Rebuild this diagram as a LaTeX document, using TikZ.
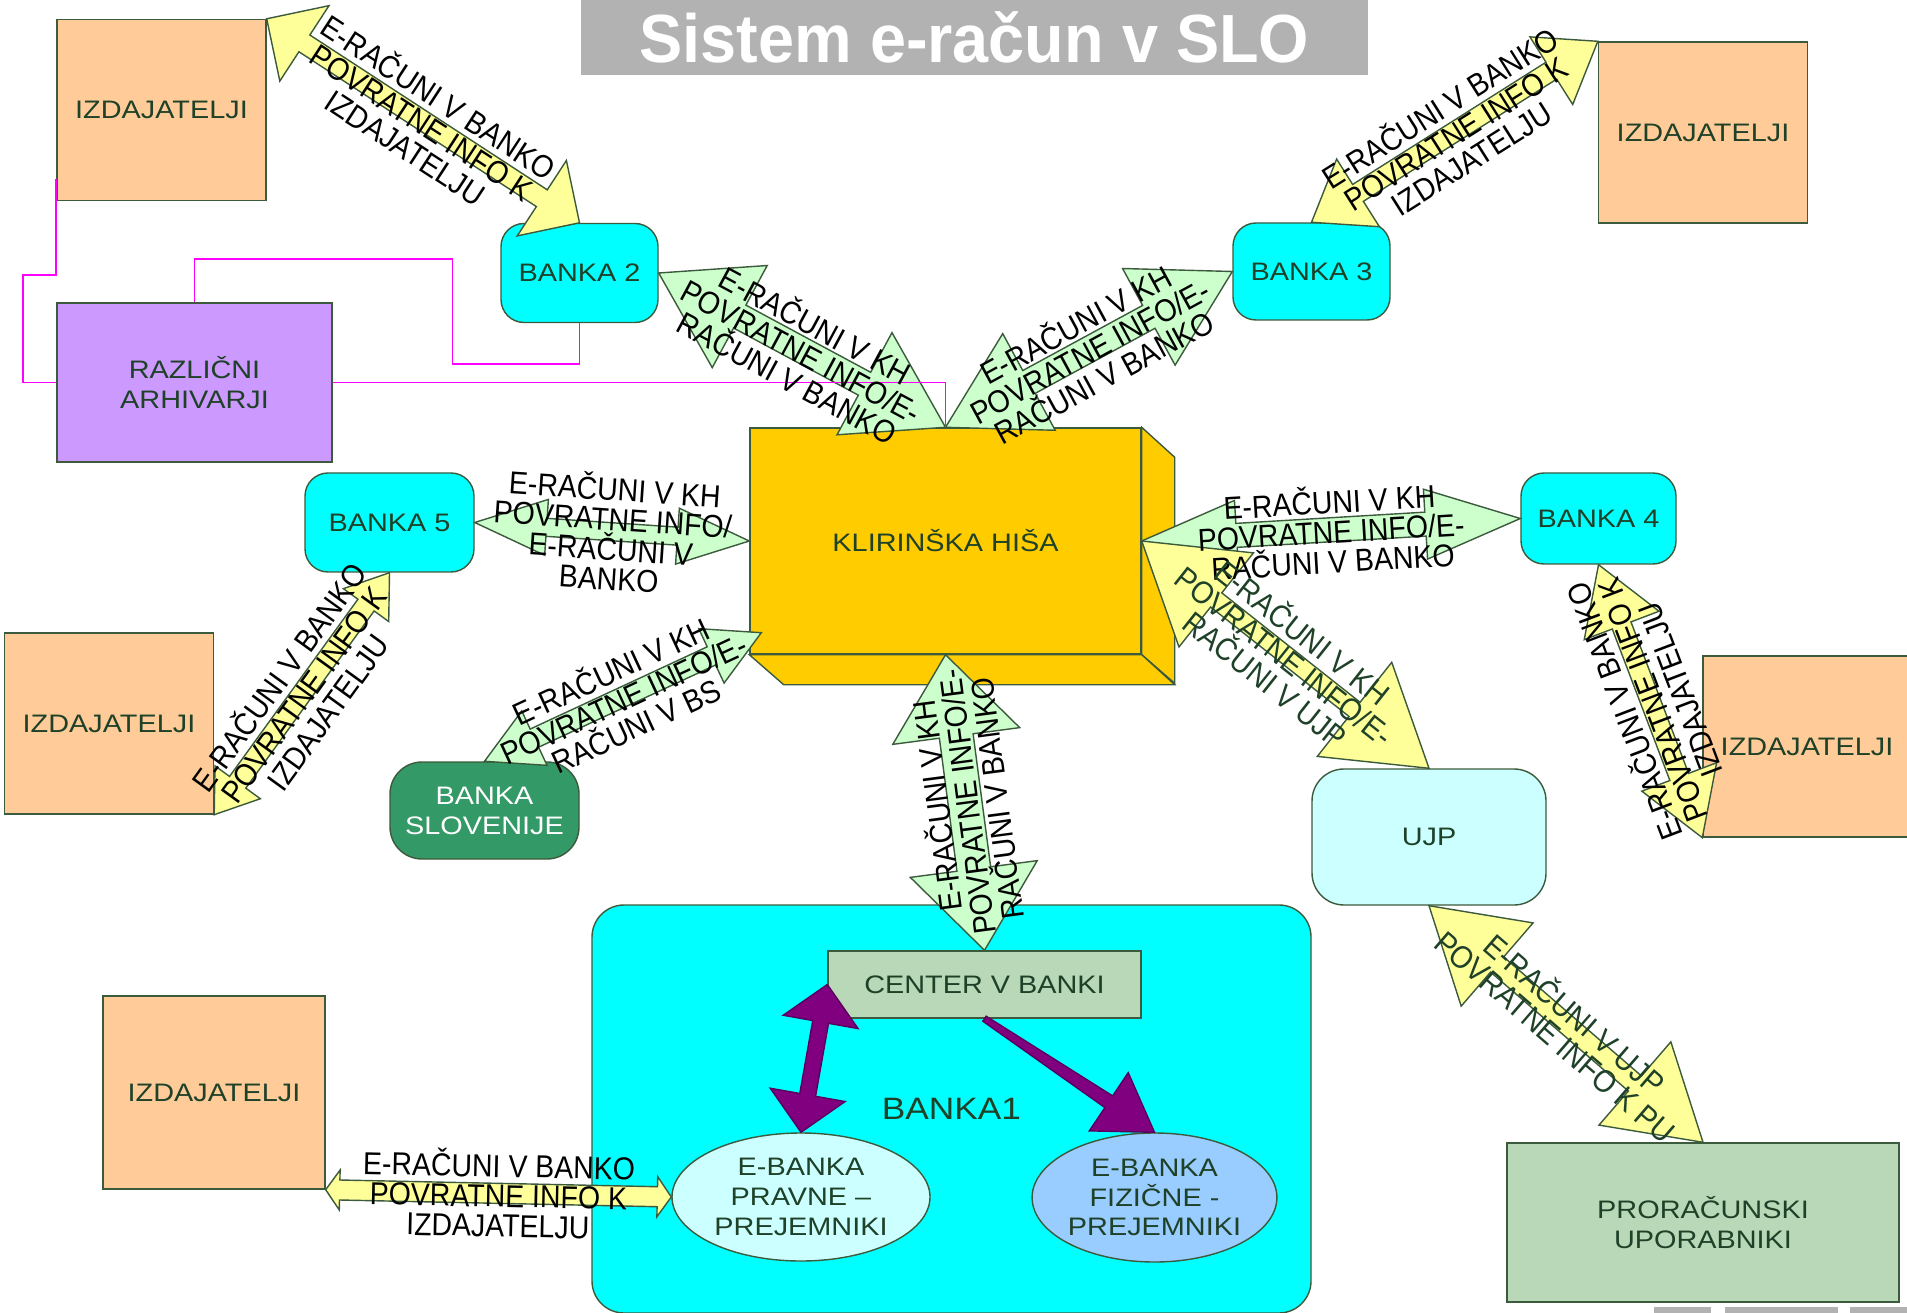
\documentclass[tikz,border=0pt]{standalone}
\usepackage{fontspec}
\setmainfont{Liberation Sans}
\newfontfamily\nodefont{Liberation Sans}[FakeStretch=1.14]
\newfontfamily\lblfont{Liberation Sans}[FakeStretch=0.9]
\newfontfamily\titlefont{Liberation Sans}[FakeStretch=0.95]
\usetikzlibrary{calc,shapes.geometric}

\definecolor{peach}{HTML}{FFCC99}
\definecolor{lavender}{HTML}{CC99FF}
\definecolor{bankcyan}{HTML}{00FFFF}
\definecolor{khgold}{HTML}{FFCC00}
\definecolor{bsgreen}{HTML}{339966}
\definecolor{ujpcyan}{HTML}{CCFFFF}
\definecolor{sage}{HTML}{B8D8B8}
\definecolor{skyblue}{HTML}{99CCFF}
\definecolor{arryellow}{HTML}{FFFF99}
\definecolor{arrgreen}{HTML}{CCFFCC}
\definecolor{ebpurple}{HTML}{800080}
\definecolor{archpink}{HTML}{FF00FF}
\definecolor{edgegreen}{HTML}{3C5A3C}
\definecolor{txtgreen}{HTML}{1E4128}
\definecolor{titlegray}{HTML}{B2B2B2}

\tikzset{
  box/.style={draw=edgegreen, line width=0.4pt, inner sep=0pt, align=center,
    text=txtgreen, font=\nodefont\fontsize{7.2}{8.5}\selectfont},
  izd/.style={box, fill=peach, minimum width=20.9mm, minimum height=18.1mm},
  banka/.style={box, fill=bankcyan, rounded corners=2.3mm},
  arhiv/.style={box, fill=lavender},
  yarrow/.style={fill=arryellow, draw=edgegreen, line width=0.4pt},
  garrow/.style={fill=arrgreen, draw=edgegreen, line width=0.4pt},
  parrow/.style={fill=ebpurple, draw=ebpurple!70!black, line width=0.4pt},
  khside/.style={fill=khgold, draw=edgegreen, line width=0.4pt},
  archline/.style={draw=archpink, line width=0.5pt},
  lbl/.style={midway, sloped, align=center, inner sep=0pt,
    font=\lblfont\fontsize{9}{8.5}\selectfont}
}

% double block arrow: style, from, to, shaft, head width, head length
\newcommand{\blockarrow}[6]{%
  \path[#1] (#2)
    -- ($(#2)!#6!(#3)!#5!90:(#3)$)
    -- ($(#2)!#6!(#3)!#4!90:(#3)$)
    -- ($(#3)!#6!(#2)!#4!-90:(#2)$)
    -- ($(#3)!#6!(#2)!#5!-90:(#2)$)
    -- (#3)
    -- ($(#3)!#6!(#2)!#5!90:(#2)$)
    -- ($(#3)!#6!(#2)!#4!90:(#2)$)
    -- ($(#2)!#6!(#3)!#4!-90:(#3)$)
    -- ($(#2)!#6!(#3)!#5!-90:(#3)$)
    -- cycle;}

\begin{document}
\begin{tikzpicture}[x=0.1mm, y=-0.1mm]
  \useasboundingbox (0,0) rectangle (1907,1313);

  % title
  \node[fill=titlegray, minimum width=78.7mm, minimum height=7.5mm, inner sep=0pt,
    text=white, font=\titlefont\bfseries\fontsize{19.4}{22}\selectfont] (title) at (974.5,37.5) {Sistem e-račun v SLO};

  % bank 1 with its parts
  \node[box, fill=bankcyan, rounded corners=3.2mm, minimum width=71.9mm, minimum height=40.8mm,
    font=\nodefont\fontsize{8.8}{10}\selectfont] (banka1) at (951.5,1109) {BANKA1};
  \node[box, fill=sage, minimum width=31.3mm, minimum height=6.7mm] (center) at (984.5,984.5) {CENTER V BANKI};
  \node[box, shape=ellipse, fill=ujpcyan, minimum width=25.8mm, minimum height=12.8mm] (pravne) at (801,1197) {E-BANKA\\PRAVNE –\\PREJEMNIKI};
  \node[box, shape=ellipse, fill=skyblue, minimum width=23.5mm, minimum height=12.9mm] (fizicne) at (1154.5,1197.5) {E-BANKA\\FIZIČNE -\\PREJEMNIKI};

  % issuers
  \node[izd] (izdTL) at (161.5,110) {IZDAJATELJI};
  \node[izd] (izdTR) at (1703,132.5) {IZDAJATELJI};
  \node[izd] (izdL) at (109,723.5) {IZDAJATELJI};
  \node[izd, minimum width=20.8mm] (izdR) at (1807,746.5) {IZDAJATELJI};
  \node[izd, minimum width=22.2mm, minimum height=19.3mm] (izdBL) at (214,1092.5) {IZDAJATELJI};

  % banks
  \node[banka, minimum width=15.7mm, minimum height=9.9mm] (banka2) at (579.5,273) {BANKA 2};
  \node[banka, minimum width=15.7mm, minimum height=9.7mm] (banka3) at (1311.5,271.5) {BANKA 3};
  \node[banka, minimum width=16.9mm, minimum height=9.9mm] (banka5) at (389.5,522.5) {BANKA 5};
  \node[banka, minimum width=15.5mm, minimum height=9.1mm] (banka4) at (1598.5,518.5) {BANKA 4};
  \node[box, fill=bsgreen, text=white, rounded corners=3.2mm, minimum width=18.9mm, minimum height=9.7mm] (bslo) at (484.5,810.5) {BANKA\\SLOVENIJE};
  \node[box, fill=ujpcyan, rounded corners=3.2mm, minimum width=23.4mm, minimum height=13.6mm] (ujp) at (1429,837) {UJP};
  \node[box, fill=sage, minimum width=39.2mm, minimum height=15.9mm] (prorac) at (1703,1222.5) {PRORAČUNSKI\\UPORABNIKI};
  \node[arhiv, minimum width=27.5mm, minimum height=15.9mm] (razl) at (194.5,382.5) {RAZLIČNI\\ARHIVARJI};

  % clearing house (box with depth)
  \node[box, fill=khgold, minimum width=39.1mm, minimum height=22.6mm] (kh) at (945.5,541) {KLIRINŠKA HIŠA};
  \path[khside] (kh.north east) -- ++(33,30) -- ++(0,226) -- (kh.south east) -- cycle;
  \path[khside] (kh.south west) -- (kh.south east) -- ++(33,30) -- ++(-391,0) -- cycle;
  \coordinate (khbs) at ($(kh.south west)+(12,-22)$);

  % footer bars
  \fill[titlegray] (1654,1307) rectangle (1711,1313);
  \fill[titlegray] (1725,1307) rectangle (1838,1313);
  \fill[titlegray] (1850,1307) rectangle (1907,1313);

  % block arrows
  \blockarrow{yarrow}{izdTL.north east}{banka2.north}{1mm}{4.5mm}{4.5mm}
  \blockarrow{garrow}{banka2.east}{kh.north}{1.3mm}{5.8mm}{9.2mm}
  \blockarrow{garrow}{kh.north}{banka3.west}{1.3mm}{5.5mm}{9.5mm}
  \blockarrow{yarrow}{banka3.north}{izdTR.north west}{1mm}{4mm}{5.5mm}
  \blockarrow{garrow}{banka5.east}{kh.west}{0.9mm}{2.8mm}{7.2mm}
  \blockarrow{yarrow}{izdL.south east}{banka5.south}{1mm}{2.8mm}{4mm}
  \blockarrow{garrow}{bslo.north}{khbs}{1mm}{3mm}{5.5mm}
  \blockarrow{garrow}{kh.east}{banka4.west}{1.2mm}{3.5mm}{9.5mm}
  \blockarrow{yarrow}{kh.east}{ujp.north}{0.9mm}{6mm}{9.5mm}
  \blockarrow{yarrow}{banka4.south}{izdR.south west}{1mm}{4mm}{6.5mm}
  \blockarrow{garrow}{kh.south}{center.north}{1.7mm}{6.4mm}{8.2mm}
  \blockarrow{yarrow}{ujp.south}{prorac.north}{1mm}{5.5mm}{9mm}
  \blockarrow{yarrow}{izdBL.south east}{pravne.west}{1mm}{2mm}{1.4mm}
  \blockarrow{parrow}{center.west}{pravne.north}{0.8mm}{3.8mm}{3.8mm}
  \path[parrow] ($(center.south)!0.3mm!90:(fizicne.north)$)
    -- ($(fizicne.north)!5.5mm!(center.south)!0.7mm!-90:(center.south)$)
    -- ($(fizicne.north)!5.5mm!(center.south)!3.5mm!-90:(center.south)$)
    -- (fizicne.north)
    -- ($(fizicne.north)!5.5mm!(center.south)!3.5mm!90:(center.south)$)
    -- ($(fizicne.north)!5.5mm!(center.south)!0.7mm!90:(center.south)$)
    -- ($(center.south)!0.3mm!-90:(fizicne.north)$) -- cycle;

  % archive links
  \draw[archline] ([yshift=2.2mm]izdTL.south west) -- ++(0,96) -- ++(-33,0) |- (razl.west);
  \draw[archline] (razl.north) -- ++(0,-43) -- ++(258,0) -- ++(0,105) -| (banka2.south);
  \draw[archline] (razl.east) -| (kh.north);

  % arrow labels
  \path (izdTL.north east) -- (banka2.north) node[lbl] {E-RAČUNI V BANKO\\POVRATNE INFO K\\IZDAJATELJU};
  \path (banka2.east) -- (kh.north) node[lbl] {E-RAČUNI V KH\\POVRATNE INFO/E-\\RAČUNI V BANKO};
  \path (kh.north) -- (banka3.west) node[lbl] {E-RAČUNI V KH\\POVRATNE INFO/E-\\RAČUNI V BANKO};
  \path (banka3.north) -- (izdTR.north west) node[lbl] {E-RAČUNI V BANKO\\POVRATNE INFO K\\IZDAJATELJU};
  \path (banka5.east) -- (kh.west) node[lbl] {E-RAČUNI V KH\\POVRATNE INFO/\\E-RAČUNI V\\BANKO};
  \path (izdL.south east) -- (banka5.south) node[lbl] {E-RAČUNI V BANKO\\POVRATNE INFO K\\IZDAJATELJU};
  \path (bslo.north) -- (khbs) node[lbl] {E-RAČUNI V KH\\POVRATNE INFO/E-\\RAČUNI V BS};
  \path (kh.east) -- (banka4.west) node[lbl] {E-RAČUNI V KH\\POVRATNE INFO/E-\\RAČUNI V BANKO};
  \path (kh.east) -- (ujp.north) node[lbl, text=txtgreen] {E-RAČUNI V KH\\POVRATNE INFO/E-\\RAČUNI V UJP};
  \path (izdR.south west) -- (banka4.south) node[lbl, allow upside down] {E-RAČUNI V BANKO\\POVRATNE INFO K\\IZDAJATELJU};
  \path (center.north) -- (kh.south) node[lbl, allow upside down] {E-RAČUNI V KH\\POVRATNE INFO/E-\\RAČUNI V BANKO};
  \path (ujp.south) -- (prorac.north) node[lbl, text=txtgreen] {E-RAČUNI V UJP\\POVRATNE INFO K PU};
  \path (izdBL.south east) -- (pravne.west) node[lbl] {E-RAČUNI V BANKO\\POVRATNE INFO K\\IZDAJATELJU};
\end{tikzpicture}
\end{document}
